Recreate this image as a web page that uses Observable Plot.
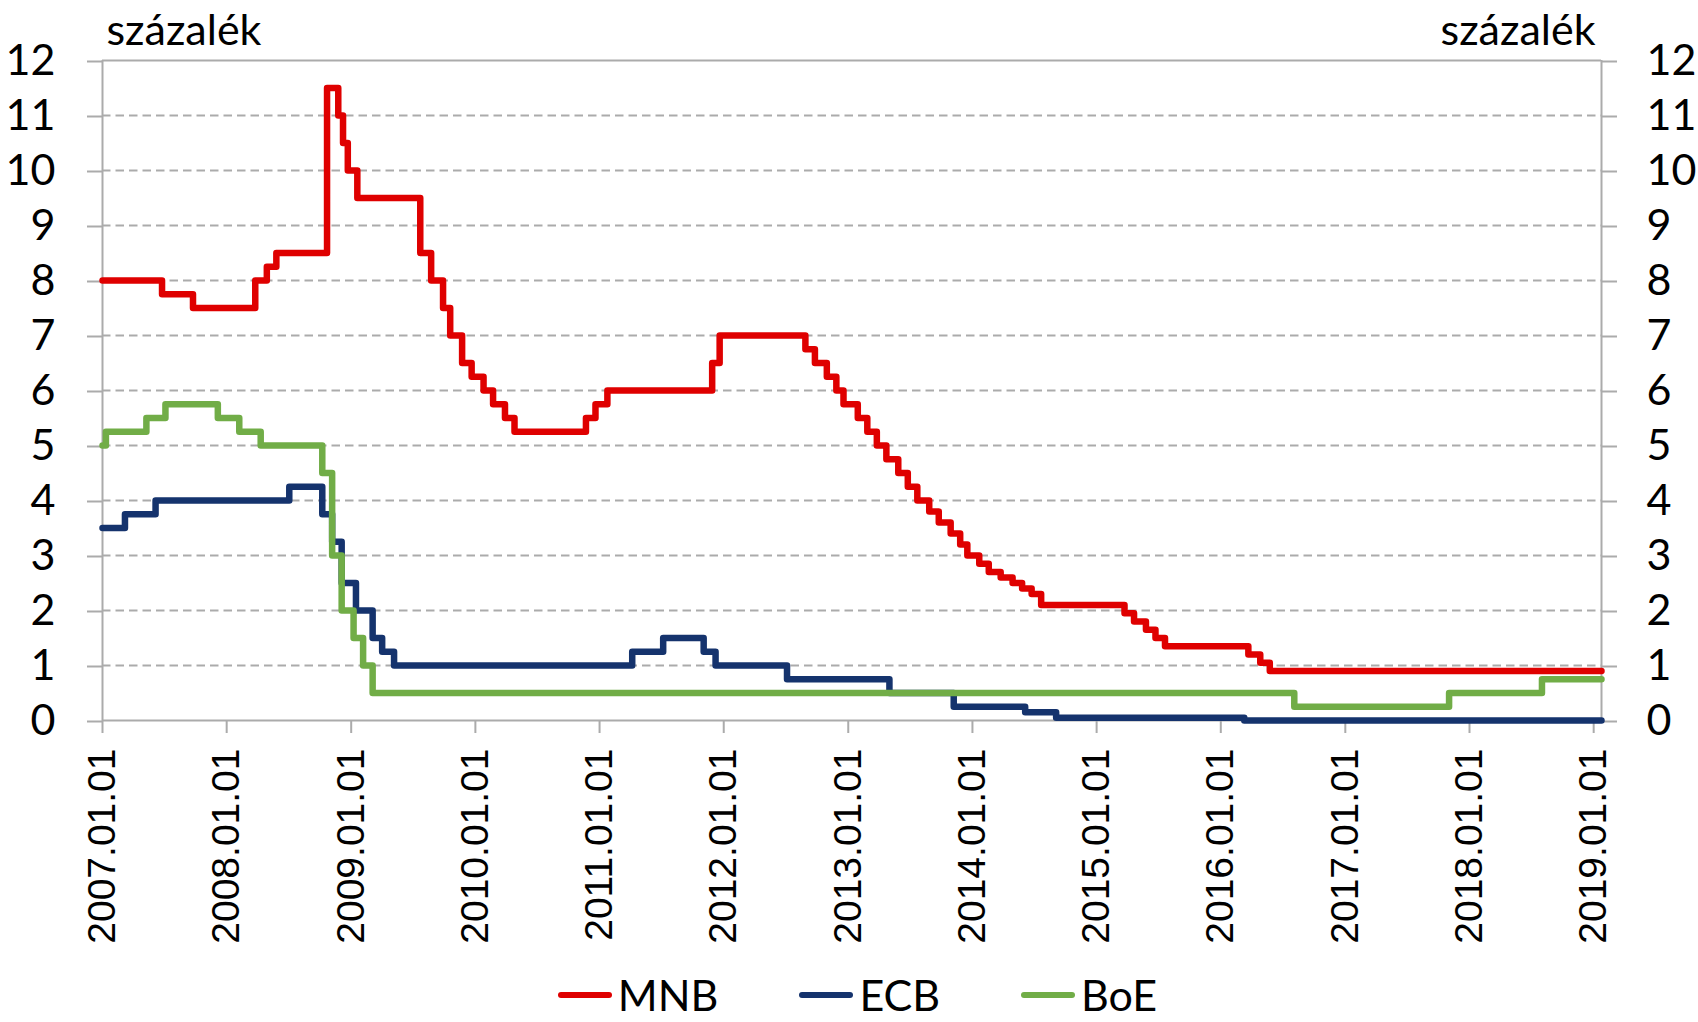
<!DOCTYPE html>
<html>
<head>
<meta charset="utf-8">
<script src="https://cdn.jsdelivr.net/npm/d3@7"></script>
<script src="https://cdn.jsdelivr.net/npm/@observablehq/plot@0.6"></script>
<style>
  html, body { margin: 0; padding: 0; background: #fff; }
  body { width: 1698px; height: 1022px; overflow: hidden; position: relative; font-family: Lato, sans-serif; }
  #chart svg { display: block; }
  #legend { position: absolute; left: 108px; width: 1499px; top: 974px; display: flex; justify-content: center; align-items: center; gap: 81px; font-family: Lato, sans-serif; font-size: 43px; line-height: 42px; color: #000; }
  .item { display: flex; align-items: center; }
  .sw { width: 54px; height: 6px; border-radius: 3px; margin-right: 6px; }
</style>
</head>
<body>
<div id="chart"></div>
<div id="legend"></div>
<script>
// ---- Data (policy rates, %, step changes) ----
const seriesNames = ["MNB", "ECB", "BoE"];
const seriesColors = ["#DF0000", "#15336D", "#71AD47"];

const mnbDates = ["2007-01-01","2007-06-25","2007-09-24","2008-03-25","2008-04-28","2008-05-26","2008-10-22","2008-11-24","2008-12-08","2008-12-22","2009-01-19","2009-07-23","2009-08-24","2009-09-28","2009-10-19","2009-11-23","2009-12-21","2010-01-25","2010-02-22","2010-03-29","2010-04-26","2010-11-22","2010-12-20","2011-01-24","2011-11-28","2011-12-20","2012-08-28","2012-09-25","2012-10-30","2012-11-27","2012-12-18","2013-01-29","2013-02-26","2013-03-26","2013-04-23","2013-05-28","2013-06-25","2013-07-23","2013-08-27","2013-09-24","2013-10-29","2013-11-26","2013-12-17","2014-01-21","2014-02-18","2014-03-25","2014-04-29","2014-05-27","2014-06-24","2014-07-22","2015-03-24","2015-04-21","2015-05-26","2015-06-23","2015-07-21","2016-03-22","2016-04-26","2016-05-24"];
const mnbValues = [8.00,7.75,7.50,8.00,8.25,8.50,11.50,11.00,10.50,10.00,9.50,8.50,8.00,7.50,7.00,6.50,6.25,6.00,5.75,5.50,5.25,5.50,5.75,6.00,6.50,7.00,6.75,6.50,6.25,6.00,5.75,5.50,5.25,5.00,4.75,4.50,4.25,4.00,3.80,3.60,3.40,3.20,3.00,2.85,2.70,2.60,2.50,2.40,2.30,2.10,1.95,1.80,1.65,1.50,1.35,1.20,1.05,0.90];

const ecbDates = ["2007-01-01","2007-03-08","2007-06-06","2008-07-03","2008-10-08","2008-11-06","2008-12-04","2009-01-15","2009-03-05","2009-04-02","2009-05-07","2011-04-07","2011-07-07","2011-11-03","2011-12-08","2012-07-05","2013-05-02","2013-11-07","2014-06-05","2014-09-04","2016-03-10"];
const ecbValues = [3.50,3.75,4.00,4.25,3.75,3.25,2.50,2.00,1.50,1.25,1.00,1.25,1.50,1.25,1.00,0.75,0.50,0.25,0.15,0.05,0.00];

const boeDates = ["2007-01-01","2007-01-11","2007-05-10","2007-07-05","2007-12-06","2008-02-07","2008-04-10","2008-10-08","2008-11-06","2008-12-04","2009-01-08","2009-02-05","2009-03-05","2016-08-04","2017-11-02","2018-08-02"];
const boeValues = [5.00,5.25,5.50,5.75,5.50,5.25,5.00,4.50,3.00,2.00,1.50,1.00,0.50,0.25,0.50,0.75];

const startDate = "2007-01-01";
const endDate = "2019-01-24";
const xTickLabels = ["2007-01-01","2008-01-01","2009-01-01","2010-01-01","2011-01-01","2012-01-01","2013-01-01","2014-01-01","2015-01-01","2016-01-01","2017-01-01","2018-01-01","2019-01-01"];
const yTicks = [0,1,2,3,4,5,6,7,8,9,10,11,12];
const unitLabel = "százalék";

// ---- Build table ----
const parse = d3.utcParse("%Y-%m-%d");
function build(name, dates, values) {
  const rows = dates.map((d, i) => ({series: name, date: parse(d), value: values[i]}));
  rows.push({series: name, date: parse(endDate), value: values[values.length - 1]});
  return rows;
}
const rows = [
  ...build("MNB", mnbDates, mnbValues),
  ...build("ECB", ecbDates, ecbValues),
  ...build("BoE", boeDates, boeValues)
];
const xDomain = [parse(startDate), parse(endDate)];
const grid = yTicks.filter(v => v > 0 && v < 12);
const gray = "#ABABAB";

const chart = Plot.plot({
  width: 1698,
  height: 960,
  marginLeft: 102,
  marginRight: 97,
  marginTop: 60,
  marginBottom: 240,
  style: {fontFamily: "Lato, sans-serif", background: "#fff", color: "#000"},
  x: {type: "utc", domain: xDomain},
  y: {domain: [0, 12]},
  color: {domain: seriesNames, range: seriesColors},
  marks: [
    Plot.ruleY(grid, {stroke: gray, strokeWidth: 2, strokeDasharray: "8.5,5"}),
    Plot.ruleY([0, 12], {stroke: gray, strokeWidth: 2}),
    Plot.ruleX(xDomain, {stroke: gray, strokeWidth: 2}),
    Plot.axisY({anchor: "left", ticks: yTicks, tickSize: 15, tickPadding: 32, fontSize: 43, stroke: gray, strokeWidth: 2, fill: "#000", label: null, dy: 1}),
    Plot.axisY({anchor: "right", ticks: yTicks, tickSize: 15, tickPadding: 30, fontSize: 43, stroke: gray, strokeWidth: 2, fill: "#000", label: null, dy: 1}),
    Plot.axisX({ticks: xTickLabels.map(parse), tickFormat: d3.utcFormat("%Y.%m.%d"), tickRotate: -90, tickSize: 13, tickPadding: 15, fontSize: 39, fontFamily: "Liberation Sans, Arial, sans-serif", stroke: gray, strokeWidth: 2, fill: "#000", label: null}),
    Plot.line(rows, {x: "date", y: "value", z: "series", stroke: "series", curve: "step-after", strokeWidth: 6.5, strokeLinejoin: "round", strokeLinecap: "round"}),
    Plot.text([unitLabel], {frameAnchor: "top-left", textAnchor: "start", lineAnchor: "bottom", dx: 4, dy: -16, fontSize: 43, fill: "#000"}),
    Plot.text([unitLabel], {frameAnchor: "top-right", textAnchor: "end", lineAnchor: "bottom", dx: -6, dy: -16, fontSize: 43, fill: "#000"})
  ]
});
document.getElementById("chart").appendChild(chart);

// ---- Legend ----
const legend = document.getElementById("legend");
seriesNames.forEach((name, i) => {
  const item = document.createElement("div");
  item.className = "item";
  const sw = document.createElement("span");
  sw.className = "sw";
  sw.style.background = seriesColors[i];
  const label = document.createElement("span");
  label.textContent = name;
  item.appendChild(sw);
  item.appendChild(label);
  legend.appendChild(item);
});
</script>
</body>
</html>
